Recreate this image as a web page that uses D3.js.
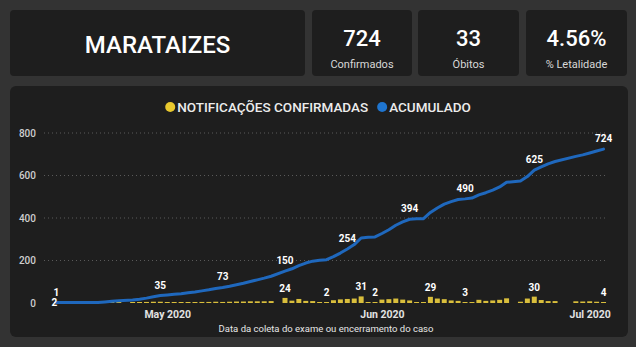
<!DOCTYPE html>
<html>
<head>
<meta charset="utf-8">
<script src="https://cdn.jsdelivr.net/npm/d3@7"></script>
<style>
  html, body { margin: 0; padding: 0; background: #333333; }
  svg { display: block; font-family: Roboto, "Noto Sans", sans-serif; }
</style>
</head>
<body>
<svg id="chart" width="636" height="347"></svg>
<script>
// Header figures
const cityName = "MARATAIZES";
const kpiValues = ["724", "33", "4.56%"];
const kpiLabels = ["Confirmados", "Óbitos", "% Letalidade"];

// Daily series runs from 15 Apr 2020 to 03 Jul 2020 (one entry per day, null = no record)
const firstDay = "2020-04-15";
const lastDay = "2020-07-03";

// Confirmed notifications per day
const dailyCases = [
  1, null, null, null, null, null, null, 3, 3, 3,
  null, 3, 4, 5, 6, 6, 3, 3, 3, 4,
  4, 5, 5, 6, 5, 6, 7, 7, 8, 8,
  8, 9, null, 24, 11, 19, 10, 9, 4, 2,
  13, 17, 19, 21, 31, 3, 2, 16, 18, 21,
  16, 12, 2, 1, 29, 21, 18, 12, 10, 3,
  4, 15, 10, 12, 15, 22, null, 6, 21, 30,
  14, 9, 9, null, null, 8, 7, 8, 6, 4
];

// Running total of confirmed cases
const cumulativeCases = [
  2, 2, 2, 2, 2, 2, 2, 5, 8, 11,
  null, 14, 18, 23, 29, 35, 38, 41, 44, 48,
  52, 57, 62, 68, 73, 79, 86, 93, 101, 109,
  117, 126, null, 150, 161, 176, 188, 197, 201, 204,
  218, 235, 254, 275, 306, 309, 311, 327, 345, 366,
  382, 394, 396, 397, 426, 447, 465, 477, 487, 490,
  494, 509, 519, 531, 546, 568, null, 574, 595, 625,
  641, 655, 666, null, null, 690, 697, 706, 715, 724
];

// Days whose values are printed on the chart
const barLabelDays = ["2020-04-15", "2020-05-18", "2020-05-24", "2020-05-29", "2020-05-31",
                      "2020-06-08", "2020-06-13", "2020-06-23", "2020-07-03"];
const lineLabelDays = ["2020-04-15", "2020-04-30", "2020-05-09", "2020-05-18", "2020-05-27",
                       "2020-06-05", "2020-06-13", "2020-06-23", "2020-07-03"];

// Axis ticks
const xTickDays = ["2020-05-01", "2020-06-01", "2020-07-01"];
const yTicks = [0, 200, 400, 600, 800];

const legendNames = ["NOTIFICAÇÕES CONFIRMADAS", "ACUMULADO"];
const xAxisTitle = "Data da coleta do exame ou encerramento do caso";

const parse = d3.timeParse("%Y-%m-%d");
const fmtKey = d3.timeFormat("%Y-%m-%d");
const days = d3.timeDay.range(parse(firstDay), d3.timeDay.offset(parse(lastDay), 1));
const rows = days.map((d, i) => ({ date: d, key: fmtKey(d), daily: dailyCases[i], total: cumulativeCases[i] }));

const colors = {
  card: "#1e1e1e",
  text: "#ffffff",
  sub: "#d8d8d8",
  axis: "#cfcfcf",
  grid: "#5a5a5a",
  bar: "#d9be3c",
  barDot: "#e8c82e",
  line: "#1f68bd",
  lineDot: "#1f75cf"
};

const svg = d3.select("#chart");

// ---- header cards ----
const cards = [
  { x: 10, w: 295 },
  { x: 312, w: 100 },
  { x: 418, w: 101 },
  { x: 526, w: 101 }
];
svg.selectAll("rect.card").data(cards).join("rect")
  .attr("class", "card")
  .attr("x", d => d.x).attr("y", 10)
  .attr("width", d => d.w).attr("height", 66)
  .attr("rx", 4).attr("fill", colors.card);

svg.append("text")
  .attr("x", cards[0].x + cards[0].w / 2).attr("y", 53)
  .attr("text-anchor", "middle")
  .attr("fill", colors.text)
  .attr("font-size", 24).attr("font-weight", 500)
  .text(cityName);

kpiValues.forEach((v, i) => {
  const c = cards[i + 1];
  const cx = c.x + c.w / 2;
  svg.append("text")
    .attr("x", cx).attr("y", 46)
    .attr("text-anchor", "middle")
    .attr("fill", colors.text)
    .attr("font-size", 22).attr("font-weight", 500)
    .text(v);
  svg.append("text")
    .attr("x", cx).attr("y", 68)
    .attr("text-anchor", "middle")
    .attr("fill", colors.sub)
    .attr("font-size", 11)
    .text(kpiLabels[i]);
});

// ---- chart panel ----
svg.append("rect")
  .attr("x", 10).attr("y", 86)
  .attr("width", 618).attr("height", 251)
  .attr("rx", 6).attr("fill", colors.card);

// legend
const legend = svg.append("g");
const legendItems = [
  { name: legendNames[0], color: colors.barDot },
  { name: legendNames[1], color: colors.lineDot }
];
let lx = 0;
legendItems.forEach(item => {
  const g = legend.append("g").attr("transform", `translate(${lx},0)`);
  g.append("circle").attr("cx", 5).attr("cy", 0).attr("r", 5).attr("fill", item.color);
  const t = g.append("text")
    .attr("x", 12).attr("y", 0)
    .attr("dy", "0.35em")
    .attr("fill", "#ececec")
    .attr("font-size", 13.5).attr("font-weight", 500)
    .text(item.name);
  lx += 12 + t.node().getComputedTextLength() + 9;
});
const legendWidth = lx - 9;
legend.attr("transform", `translate(${318 - legendWidth / 2},107)`);

// scales
const x = d3.scaleTime()
  .domain([d3.timeHour.offset(parse(firstDay), -12), d3.timeHour.offset(parse(lastDay), 12)])
  .range([53, 607]);
const y = d3.scaleLinear().domain([0, 800]).range([303, 133]);
const dayWidth = x(d3.timeDay.offset(parse(firstDay), 1)) - x(parse(firstDay));
const barWidth = dayWidth * 0.72;

// gridlines
svg.append("g")
  .selectAll("line")
  .data(yTicks.filter(t => t > 0))
  .join("line")
  .attr("x1", 44).attr("x2", 607)
  .attr("y1", d => y(d)).attr("y2", d => y(d))
  .attr("stroke", colors.grid)
  .attr("stroke-width", 1)
  .attr("stroke-dasharray", "1 3");

// y axis
const yAxis = svg.append("g")
  .attr("transform", "translate(36,0)")
  .call(d3.axisLeft(y).tickValues(yTicks).tickSize(0).tickPadding(0).tickFormat(d3.format("d")));
yAxis.select(".domain").remove();
yAxis.selectAll("text")
  .attr("fill", colors.axis)
  .attr("font-size", 10)
  .attr("font-weight", 500)
  .attr("font-family", "Roboto, sans-serif");

// x axis
const xAxis = svg.append("g")
  .attr("transform", "translate(0,303)")
  .call(d3.axisBottom(x).tickValues(xTickDays.map(parse)).tickSize(0).tickPadding(8)
    .tickFormat(d3.timeFormat("%b %Y")));
xAxis.select(".domain").remove();
xAxis.selectAll("text")
  .attr("fill", "#e2e2e2")
  .attr("font-size", 10.5)
  .attr("font-weight", 700)
  .attr("font-family", "Roboto, sans-serif");

svg.append("text")
  .attr("x", 326).attr("y", 331.5)
  .attr("text-anchor", "middle")
  .attr("fill", "#e6e6e6")
  .attr("font-size", 9.5)
  .text(xAxisTitle);

// bars
const barRows = rows.filter(r => r.daily != null);
svg.append("g")
  .selectAll("rect")
  .data(barRows)
  .join("rect")
  .attr("x", d => x(d.date) - barWidth / 2)
  .attr("width", barWidth)
  .attr("y", d => Math.min(y(d.daily), y(0) - 1))
  .attr("height", d => Math.max(1, y(0) - y(d.daily)))
  .attr("fill", colors.bar);

// cumulative line
const lineRows = rows.filter(r => r.total != null);
svg.append("path")
  .datum(lineRows)
  .attr("fill", "none")
  .attr("stroke", colors.line)
  .attr("stroke-width", 3)
  .attr("stroke-linejoin", "round")
  .attr("stroke-linecap", "round")
  .attr("d", d3.line().x(d => x(d.date)).y(d => y(d.total)));

// value labels
const labelStyle = sel => sel
  .attr("text-anchor", "middle")
  .attr("fill", "#ffffff")
  .attr("font-size", 10)
  .attr("font-weight", 700);

svg.append("g")
  .selectAll("text")
  .data(rows.filter(r => barLabelDays.includes(r.key)))
  .join("text")
  .call(labelStyle)
  .attr("x", d => x(d.date))
  .attr("y", d => Math.min(y(d.daily), y(0) - 1) - 6)
  .text(d => d.daily);

svg.append("g")
  .selectAll("text")
  .data(rows.filter(r => lineLabelDays.includes(r.key)))
  .join("text")
  .call(labelStyle)
  .attr("x", d => x(d.date) + (d.key === firstDay ? -2 : 0))
  // the first point shares its spot with a bar label, so its label sits on the line
  .attr("y", d => d.key === firstDay ? y(d.total) + 3.5 : y(d.total) - 7)
  .text(d => d.total);
</script>
</body>
</html>
